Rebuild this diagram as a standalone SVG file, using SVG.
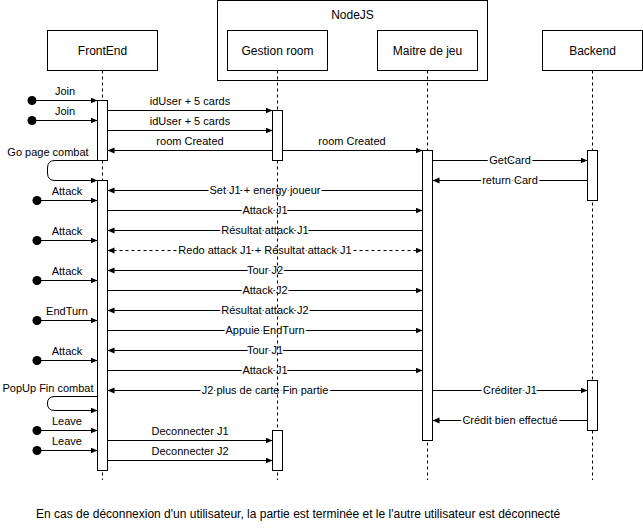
<svg xmlns="http://www.w3.org/2000/svg" width="643" height="531" viewBox="0 0 643 531">
<style>
text{font-family:"Liberation Sans",Arial,Helvetica,sans-serif;fill:#000}
.h{font-size:12px;text-anchor:middle}
.l{font-size:11px;text-anchor:middle}
.b{font-size:11px;text-anchor:middle;paint-order:stroke;stroke:#fff;stroke-width:4px;stroke-linejoin:round}
.m{fill:none;stroke:#000;stroke-width:1}
.d{fill:none;stroke:#000;stroke-width:1;stroke-dasharray:3 3}
.box{fill:#fff;stroke:#000;stroke-width:1}
.ll{stroke:#000;stroke-width:1;stroke-dasharray:3 3}
.dot{fill:#000}
</style>
<defs>
<marker id="ah" markerWidth="8" markerHeight="8" refX="7" refY="3" orient="auto-start-reverse" markerUnits="userSpaceOnUse"><path d="M0,0 L7,3 L0,6 z" fill="#000"/></marker>
</defs>
<g id="connectors">
<!-- found messages -->
<circle class="dot" cx="32" cy="100.5" r="4.5"/><path class="m" d="M32,100.5 H97.5" marker-end="url(#ah)"/><text class="l" x="65" y="95">Join</text>
<circle class="dot" cx="32" cy="120.5" r="4.5"/><path class="m" d="M32,120.5 H97.5" marker-end="url(#ah)"/><text class="l" x="65" y="115">Join</text>
<circle class="dot" cx="37" cy="200.5" r="4.5"/><path class="m" d="M37,200.5 H97.5" marker-end="url(#ah)"/><text class="l" x="67" y="195">Attack</text>
<circle class="dot" cx="37" cy="240.5" r="4.5"/><path class="m" d="M37,240.5 H97.5" marker-end="url(#ah)"/><text class="l" x="67" y="235">Attack</text>
<circle class="dot" cx="37" cy="280.5" r="4.5"/><path class="m" d="M37,280.5 H97.5" marker-end="url(#ah)"/><text class="l" x="67" y="275">Attack</text>
<circle class="dot" cx="37" cy="320.5" r="4.5"/><path class="m" d="M37,320.5 H97.5" marker-end="url(#ah)"/><text class="l" x="67" y="315">EndTurn</text>
<circle class="dot" cx="37" cy="360.5" r="4.5"/><path class="m" d="M37,360.5 H97.5" marker-end="url(#ah)"/><text class="l" x="67" y="355">Attack</text>
<circle class="dot" cx="37" cy="430.5" r="4.5"/><path class="m" d="M37,430.5 H97.5" marker-end="url(#ah)"/><text class="l" x="67" y="425">Leave</text>
<circle class="dot" cx="37" cy="450.5" r="4.5"/><path class="m" d="M37,450.5 H97.5" marker-end="url(#ah)"/><text class="l" x="67" y="445">Leave</text>
<!-- self loops -->
<path class="m" d="M97.5,160.5 H55 Q47.5,160.5 47.5,168 V173 Q47.5,180.5 55,180.5 H97.5" marker-end="url(#ah)"/><text class="l" x="48" y="156">Go page combat</text>
<path class="m" d="M97.5,396.5 H55 Q47.5,396.5 47.5,403 V404 Q47.5,410.5 55,410.5 H97.5" marker-end="url(#ah)"/><text class="l" x="48" y="392">PopUp Fin combat</text>
<!-- FrontEnd <-> Gestion room -->
<path class="m" d="M107.5,110.5 H272.5" marker-end="url(#ah)"/><text class="l" x="190" y="105">idUser + 5 cards</text>
<path class="m" d="M107.5,130.5 H272.5" marker-end="url(#ah)"/><text class="l" x="190" y="125">idUser + 5 cards</text>
<path class="m" d="M272.5,150.5 H107.5" marker-end="url(#ah)"/><text class="l" x="190" y="145">room Created</text>
<path class="m" d="M107.5,440.5 H272.5" marker-end="url(#ah)"/><text class="l" x="190" y="435">Deconnecter J1</text>
<path class="m" d="M107.5,460.5 H272.5" marker-end="url(#ah)"/><text class="l" x="190" y="455">Deconnecter J2</text>
<!-- Gestion room -> Maitre -->
<path class="m" d="M282.5,150.5 H422.5" marker-end="url(#ah)"/><text class="l" x="352" y="145">room Created</text>
<!-- Maitre <-> Backend -->
<path class="m" d="M432.5,160.5 H587.5" marker-end="url(#ah)"/><text class="b" x="510" y="164">GetCard</text>
<path class="m" d="M587.5,180.5 H432.5" marker-end="url(#ah)"/><text class="b" x="510" y="184">return Card</text>
<path class="m" d="M432.5,390.5 H587.5" marker-end="url(#ah)"/><text class="b" x="510" y="394">Créditer J1</text>
<path class="m" d="M587.5,420.5 H432.5" marker-end="url(#ah)"/><text class="b" x="510" y="424">Crédit bien effectué</text>
<!-- FrontEnd <-> Maitre -->
<path class="m" d="M422.5,190.5 H107.5" marker-end="url(#ah)"/><text class="b" x="265" y="194">Set J1 + energy joueur</text>
<path class="m" d="M107.5,210.5 H422.5" marker-end="url(#ah)"/><text class="b" x="265" y="214">Attack J1</text>
<path class="m" d="M422.5,230.5 H107.5" marker-end="url(#ah)"/><text class="b" x="265" y="234">Résultat attack J1</text>
<path class="d" d="M107.5,250.5 H422.5" marker-start="url(#ah)" marker-end="url(#ah)"/><text class="b" x="265" y="254">Redo attack J1 + Résultat attack J1</text>
<path class="m" d="M422.5,270.5 H107.5" marker-end="url(#ah)"/><text class="b" x="265" y="274">Tour J2</text>
<path class="m" d="M107.5,290.5 H422.5" marker-end="url(#ah)"/><text class="b" x="265" y="294">Attack J2</text>
<path class="m" d="M422.5,310.5 H107.5" marker-end="url(#ah)"/><text class="b" x="265" y="314">Résultat attack J2</text>
<path class="m" d="M107.5,330.5 H422.5" marker-end="url(#ah)"/><text class="b" x="265" y="334">Appuie EndTurn</text>
<path class="m" d="M422.5,350.5 H107.5" marker-end="url(#ah)"/><text class="b" x="265" y="354">Tour J1</text>
<path class="m" d="M107.5,370.5 H422.5" marker-end="url(#ah)"/><text class="b" x="265" y="374">Attack J1</text>
<path class="m" d="M422.5,390.5 H107.5" marker-end="url(#ah)"/><text class="b" x="265" y="394">J2 plus de carte Fin partie</text>
</g>
<g id="nodejs">
<rect x="217.5" y="0.5" width="270" height="80" fill="none" stroke="#000"/>
<text class="h" x="352.5" y="19">NodeJS</text>
</g>
<g id="frontend">
<line class="ll" x1="102.5" y1="70.5" x2="102.5" y2="480"/>
<rect class="box" x="47.5" y="30.5" width="110" height="40"/>
<text class="h" x="102.5" y="55">FrontEnd</text>
<rect class="box" x="97.5" y="100.5" width="10" height="60"/>
<rect class="box" x="97.5" y="180.5" width="10" height="290"/>
</g>
<g id="gestion-room">
<line class="ll" x1="277.5" y1="70.5" x2="277.5" y2="480"/>
<rect class="box" x="227.5" y="30.5" width="100" height="40"/>
<text class="h" x="277.5" y="55">Gestion room</text>
<rect class="box" x="272.5" y="110.5" width="10" height="50"/>
<rect class="box" x="272.5" y="430.5" width="10" height="40"/>
</g>
<g id="maitre-de-jeu">
<line class="ll" x1="427.5" y1="70.5" x2="427.5" y2="480"/>
<rect class="box" x="377.5" y="30.5" width="100" height="40"/>
<text class="h" x="427.5" y="55">Maitre de jeu</text>
<rect class="box" x="422.5" y="150.5" width="10" height="290"/>
</g>
<g id="backend">
<line class="ll" x1="592.5" y1="70.5" x2="592.5" y2="480"/>
<rect class="box" x="542.5" y="30.5" width="100" height="40"/>
<text class="h" x="592.5" y="55">Backend</text>
<rect class="box" x="587.5" y="150.5" width="10" height="50"/>
<rect class="box" x="587.5" y="380.5" width="10" height="50"/>
</g>
<text x="36" y="518" style="font-size:12px">En cas de déconnexion d'un utilisateur, la partie est terminée et le l'autre utilisateur est déconnecté</text>
</svg>
